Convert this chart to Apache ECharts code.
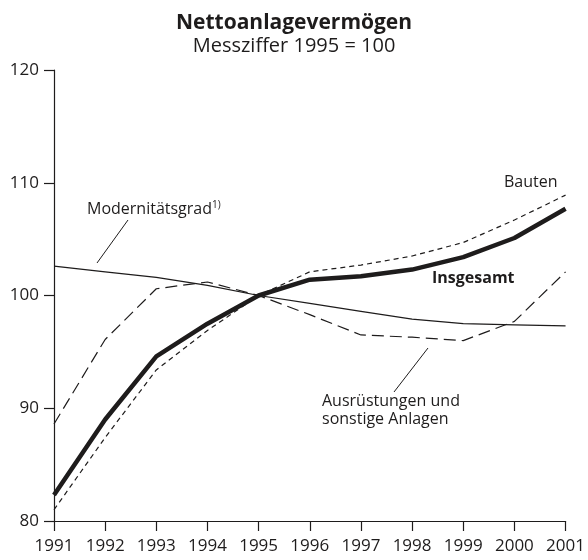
<!DOCTYPE html>
<html>
<head>
<meta charset="utf-8">
<script src="https://cdn.jsdelivr.net/npm/echarts@6/dist/echarts.min.js"></script>
<style>
  html, body { margin: 0; padding: 0; background: #fff; }
  #main { width: 588px; height: 560px; }
</style>
</head>
<body>
<div id="main"></div>
<script>
// Jahre
var years = ['1991', '1992', '1993', '1994', '1995', '1996', '1997', '1998', '1999', '2000', '2001'];
// Messziffer 1995 = 100
var insgesamt = [82.3, 89.0, 94.6, 97.5, 100, 101.4, 101.7, 102.3, 103.4, 105.1, 107.7];
var bauten = [81.0, 87.4, 93.4, 96.9, 100, 102.1, 102.7, 103.5, 104.7, 106.7, 108.9];
var ausruestungen = [88.6, 96.1, 100.6, 101.2, 100, 98.3, 96.5, 96.3, 96.0, 97.7, 102.1];
var modernitaet = [102.6, 102.1, 101.6, 100.9, 100, 99.3, 98.6, 97.9, 97.5, 97.4, 97.3];
var yTicks = [80, 90, 100, 110, 120];

var ink = '#1e1c1c';
var font = '"Open Sans", "Noto Sans", sans-serif';

var chartDom = document.getElementById('main');
var myChart = echarts.init(chartDom);
var option;

option = {
  backgroundColor: '#fff',
  animation: false,
  title: [
    {
      text: 'Nettoanlagevermögen',
      left: 'center',
      top: 8,
      textStyle: { fontFamily: font, fontWeight: 'bold', fontSize: 21, color: ink }
    },
    {
      text: 'Messziffer 1995 = 100',
      left: 'center',
      top: 31,
      textStyle: { fontFamily: font, fontWeight: 'normal', fontSize: 20, color: ink }
    }
  ],
  grid: { left: 54, right: 19, top: 70, bottom: 39, containLabel: false },
  xAxis: {
    type: 'category',
    data: years,
    boundaryGap: false,
    axisLine: { lineStyle: { color: ink, width: 1.2 } },
    axisTick: { length: 10, lineStyle: { color: ink, width: 1.2 } },
    axisLabel: { fontFamily: font, fontSize: 17, color: ink, margin: 17, interval: 0 },
    splitLine: { show: false }
  },
  yAxis: {
    type: 'value',
    min: yTicks[0],
    max: yTicks[yTicks.length - 1],
    interval: 10,
    axisLine: { show: true, lineStyle: { color: ink, width: 1.2 } },
    axisTick: { show: true, length: 10, lineStyle: { color: ink, width: 1.2 } },
    axisLabel: { fontFamily: font, fontSize: 17, color: ink, margin: 15 },
    splitLine: { show: false }
  },
  series: [
    {
      name: 'Modernitätsgrad',
      type: 'line',
      data: modernitaet,
      symbol: 'none',
      lineStyle: { color: ink, width: 1.2, type: 'solid' }
    },
    {
      name: 'Ausrüstungen und sonstige Anlagen',
      type: 'line',
      data: ausruestungen,
      symbol: 'none',
      lineStyle: { color: ink, width: 1.2, type: [12, 6] }
    },
    {
      name: 'Bauten',
      type: 'line',
      data: bauten,
      symbol: 'none',
      lineStyle: { color: ink, width: 1.2, type: [5, 4] }
    },
    {
      name: 'Insgesamt',
      type: 'line',
      data: insgesamt,
      symbol: 'none',
      z: 5,
      lineStyle: { color: ink, width: 4.5, type: 'solid', join: 'round' }
    }
  ],
  graphic: [
    {
      type: 'text',
      left: 87,
      top: 200,
      style: {
        text: 'Modernitätsgrad{sup|1)}',
        font: '16px ' + font,
        fill: ink,
        rich: {
          sup: { fontFamily: font, fontSize: 10, fill: ink, verticalAlign: 'top', padding: [0, 0, 9, 0] }
        }
      }
    },
    {
      type: 'line',
      shape: { x1: 128, y1: 220, x2: 97, y2: 263 },
      style: { stroke: ink, lineWidth: 1 }
    },
    {
      type: 'text',
      left: 504,
      top: 174,
      style: { text: 'Bauten', font: '16px ' + font, fill: ink }
    },
    {
      type: 'text',
      left: 432,
      top: 270,
      style: { text: 'Insgesamt', font: 'bold 16px ' + font, fill: ink }
    },
    {
      type: 'text',
      left: 322,
      top: 392,
      style: { text: 'Ausrüstungen und\nsonstige Anlagen', font: '16px ' + font, fill: ink, lineHeight: 18 }
    },
    {
      type: 'line',
      shape: { x1: 428, y1: 348, x2: 394, y2: 392 },
      style: { stroke: ink, lineWidth: 1 }
    }
  ]
};

option && myChart.setOption(option);
</script>
</body>
</html>
